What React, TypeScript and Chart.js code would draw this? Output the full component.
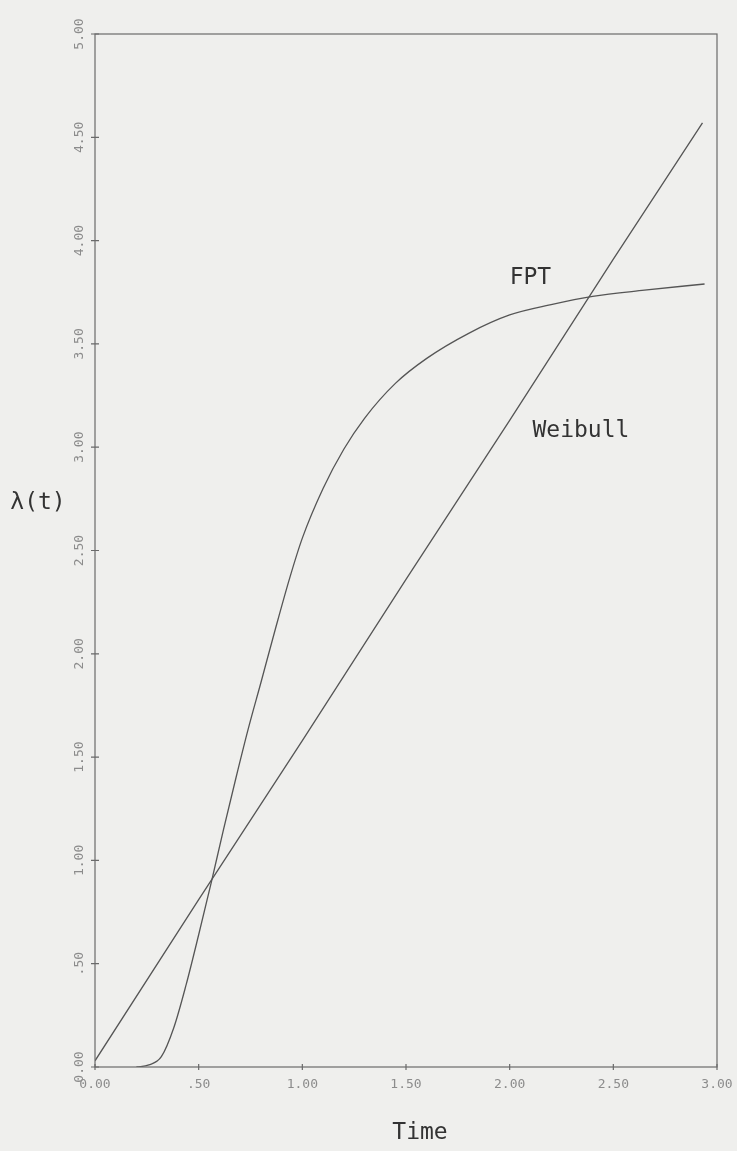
import React, { useEffect, useRef } from "react";
import { Chart, registerables } from "chart.js";

Chart.register(...registerables);

const fptTime = [0.2, 0.26, 0.32, 0.38, 0.44, 0.5, 0.56, 0.62, 0.68, 0.74, 0.8, 0.87, 0.94, 1.0, 1.1, 1.2, 1.3, 1.45, 1.6, 1.8, 2.0, 2.2, 2.4, 2.65, 2.94];
const fptValues = [0.0, 0.01, 0.05, 0.19, 0.4, 0.64, 0.89, 1.15, 1.4, 1.64, 1.86, 2.12, 2.37, 2.56, 2.8, 2.99, 3.14, 3.31, 3.43, 3.55, 3.64, 3.69, 3.73, 3.76, 3.79];

const weibullTime = [0.0, 0.5, 1.0, 1.5, 2.0, 2.5, 2.93];
const weibullValues = [0.03, 0.81, 1.58, 2.36, 3.13, 3.91, 4.57];

const xTickValues = [0, 0.5, 1, 1.5, 2, 2.5, 3];
const xTickLabels = ["0.00", ".50", "1.00", "1.50", "2.00", "2.50", "3.00"];
const yTickValues = [0, 0.5, 1, 1.5, 2, 2.5, 3, 3.5, 4, 4.5, 5];
const yTickLabels = ["0.00", ".50", "1.00", "1.50", "2.00", "2.50", "3.00", "3.50", "4.00", "4.50", "5.00"];

const seriesNames = ["FPT", "Weibull"];
const xTitle = "Time";
const yTitle = "λ(t)";

const MONO = "'DejaVu Sans Mono', 'Liberation Mono', monospace";

export default function App() {
  const ref = useRef<HTMLCanvasElement | null>(null);

  useEffect(() => {
    const canvas = ref.current;
    if (!canvas) return;

    const overlay = {
      id: "overlay",
      beforeDraw(chart: any) {
        const ctx = chart.ctx;
        ctx.save();
        ctx.fillStyle = "#efefed";
        ctx.fillRect(0, 0, chart.width, chart.height);
        ctx.restore();
      },
      afterDraw(chart: any) {
        const ctx = chart.ctx;
        const xs = chart.scales.x;
        const ys = chart.scales.y;
        const a = chart.chartArea;
        ctx.save();
        // frame
        ctx.strokeStyle = "#6a6a6a";
        ctx.lineWidth = 1.2;
        ctx.strokeRect(a.left, a.top, a.right - a.left, a.bottom - a.top);
        // tick marks
        ctx.beginPath();
        xTickValues.forEach((v) => {
          const px = xs.getPixelForValue(v);
          ctx.moveTo(px, a.bottom - 3);
          ctx.lineTo(px, a.bottom + 3);
        });
        yTickValues.forEach((v) => {
          const py = ys.getPixelForValue(v);
          ctx.moveTo(a.left - 4, py);
          ctx.lineTo(a.left + 4, py);
        });
        ctx.stroke();

        // tick labels
        ctx.fillStyle = "#8c8c8c";
        ctx.font = `13px ${MONO}`;
        ctx.textAlign = "center";
        ctx.textBaseline = "middle";
        xTickValues.forEach((v, i) => {
          const px = xs.getPixelForValue(v);
          ctx.fillText(xTickLabels[i], px, a.bottom + 18);
        });
        yTickValues.forEach((v, i) => {
          const py = ys.getPixelForValue(v);
          ctx.save();
          ctx.translate(a.left - 15, py);
          ctx.rotate(-Math.PI / 2);
          ctx.fillText(yTickLabels[i], 0, 0);
          ctx.restore();
        });

        // axis titles
        ctx.fillStyle = "#333333";
        ctx.font = `23px ${MONO}`;
        ctx.textAlign = "center";
        ctx.fillText(xTitle, (a.left + a.right) / 2 + 14, a.bottom + 66);
        ctx.fillText(yTitle, 38, ys.getPixelForValue(2.73));

        // series labels
        ctx.textAlign = "left";
        ctx.fillText(seriesNames[0], xs.getPixelForValue(2.0), ys.getPixelForValue(3.82));
        ctx.fillText(seriesNames[1], xs.getPixelForValue(2.11), ys.getPixelForValue(3.08));
        ctx.restore();
      },
    };

    const chart = new Chart(canvas, {
      type: "line",
      data: {
        datasets: [
          {
            label: seriesNames[0],
            data: fptTime.map((t, i) => ({ x: t, y: fptValues[i] })),
            borderColor: "#555555",
            borderWidth: 1.3,
            pointRadius: 0,
            cubicInterpolationMode: "monotone",
            fill: false,
          },
          {
            label: seriesNames[1],
            data: weibullTime.map((t, i) => ({ x: t, y: weibullValues[i] })),
            borderColor: "#555555",
            borderWidth: 1.3,
            pointRadius: 0,
            tension: 0,
            fill: false,
          },
        ],
      },
      options: {
        responsive: false,
        animation: false,
        layout: { padding: { left: 95, top: 34, right: 20, bottom: 84 } },
        plugins: { legend: { display: false }, tooltip: { enabled: false } },
        scales: {
          x: { type: "linear", min: 0, max: 3, display: false },
          y: { type: "linear", min: 0, max: 5, display: false },
        },
      },
      plugins: [overlay],
    });
    return () => chart.destroy();
  }, []);

  return (
    <div style={{ position: "absolute", left: 0, top: 0, width: 737, height: 1151 }}>
      <canvas ref={ref} width={737} height={1151} style={{ display: "block" }} />
    </div>
  );
}
